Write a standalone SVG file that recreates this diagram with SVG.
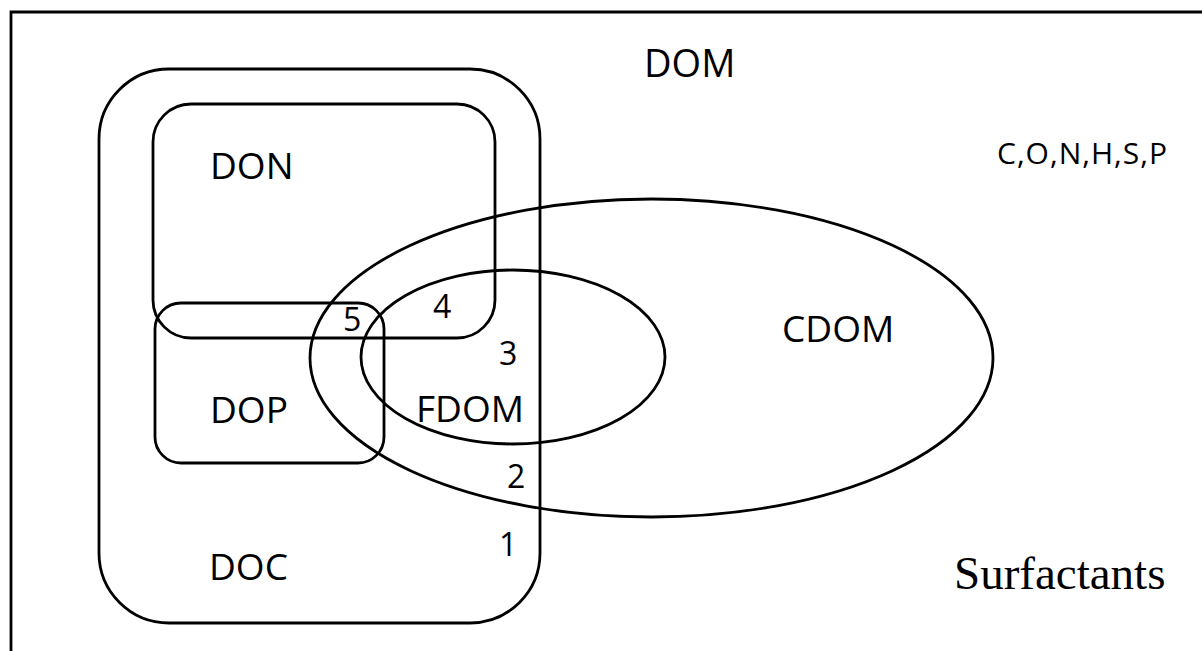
<svg xmlns="http://www.w3.org/2000/svg" width="1202" height="651" viewBox="0 0 1202 651">
<style>
.s{fill:none;stroke:#000;stroke-width:2.8}
.t{font-family:"Open Sans","Noto Sans",sans-serif;fill:#000}
.l{font-size:37px}
.n{font-size:32px}
</style>
<rect width="1202" height="651" fill="#fff"/>
<path class="s" d="M11,651 V12 H1202" stroke-width="3.2"/>
<g id="doc"><rect class="s" x="99" y="69" width="441" height="554" rx="70" ry="70"/><text class="t l" x="209" y="580">DOC</text></g>
<g id="don"><rect class="s" x="153" y="104" width="342" height="234" rx="38" ry="38"/><text class="t l" x="210" y="179">DON</text></g>
<g id="dop"><rect class="s" x="155" y="303" width="229" height="160" rx="26" ry="26"/><text class="t l" x="210" y="423">DOP</text></g>
<g id="cdom"><ellipse class="s" cx="651.5" cy="358" rx="341.5" ry="159"/><text class="t l" x="782" y="342">CDOM</text></g>
<g id="fdom"><ellipse class="s" cx="513" cy="357" rx="152" ry="87"/><text class="t l" x="416" y="422">FDOM</text></g>
<g id="dom"><text class="t" style="font-size:38px" x="644" y="77">DOM</text></g>
<g id="elements"><text class="t" style="font-size:30px" x="997" y="164" textLength="170">C,O,N,H,S,P</text></g>
<g id="surfactants"><text x="954" y="589" style="font-family:'Liberation Serif','Times New Roman',serif;font-size:47px">Surfactants</text></g>
<g id="numbers">
<text class="t n" x="343" y="331">5</text>
<text class="t n" x="433" y="318">4</text>
<text class="t n" x="499" y="365">3</text>
<text class="t n" x="507" y="488">2</text>
<text class="t n" x="499" y="556">1</text>
</g>
<g id="connectors"></g>
</svg>
